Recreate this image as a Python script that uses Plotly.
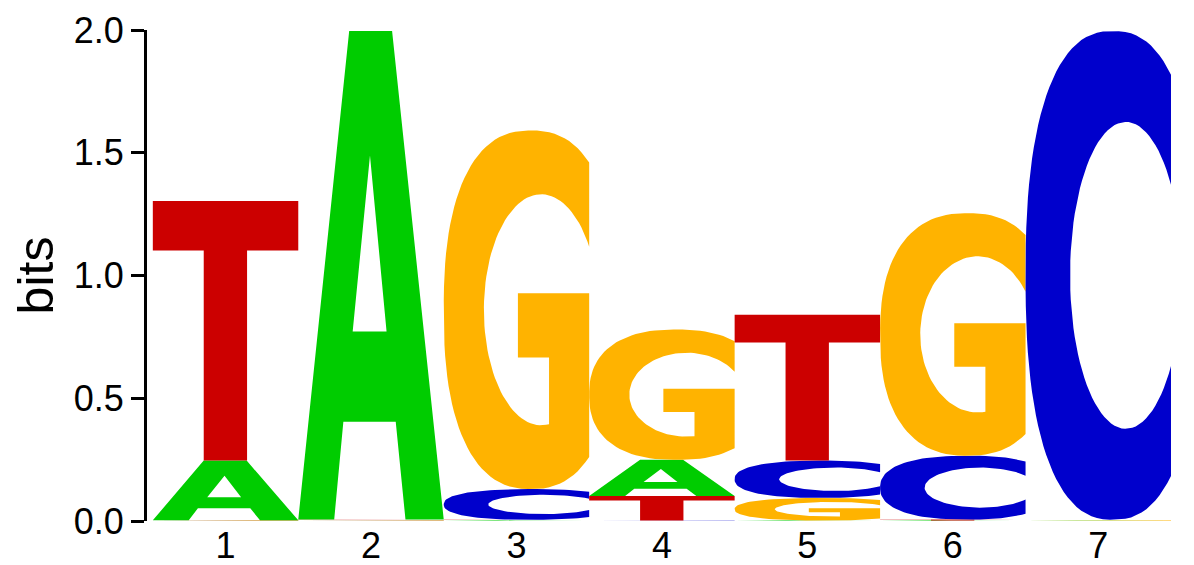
import numpy as np
import plotly.graph_objects as go

# sequence logo, 7 positions, information content in bits per base
positions = [1, 2, 3, 4, 5, 6, 7]
tick_labels = ['1', '2', '3', '4', '5', '6', '7']
bits_A = [0.243, 1.990, 0.002, 0.147, 0.002, 0.002, 0.001]
bits_C = [0.001, 0.001, 0.125, 0.002, 0.152, 0.260, 1.991]
bits_G = [0.002, 0.002, 1.461, 0.531, 0.092, 0.988, 0.002]
bits_T = [1.057, 0.003, 0.003, 0.100, 0.594, 0.004, 0.002]

colors = {'A': '#00CC00', 'C': '#0000CC', 'G': '#FFB300', 'T': '#CC0000'}
FONT = 'Liberation Sans, Arial, sans-serif'


def superellipse(cx, cy, rx, ry, n, t0, t1, num=80):
    t = np.linspace(t0, t1, num)
    c, s = np.cos(t), np.sin(t)
    x = cx + rx * np.sign(c) * np.abs(c) ** (2 / n)
    y = cy + ry * np.sign(s) * np.abs(s) ** (2 / n)
    return list(x), list(y)


def edge_angle(cx, rx, n, x):
    # angle where the curve crosses the vertical line at x
    return np.arccos(((x - cx) / rx) ** (n / 2))


# outer bowl shared by C and G
OUT = dict(cx=0.6, cy=0.5, rx=0.6, ry=0.5, n=2.4)


def glyph_C():
    to = edge_angle(OUT['cx'], OUT['rx'], OUT['n'], 1.0)
    xo, yo = superellipse(OUT['cx'], OUT['cy'], OUT['rx'], OUT['ry'], OUT['n'], to, 2 * np.pi - to)
    ti = edge_angle(0.69, 0.384, 2, 1.0)
    xi, yi = superellipse(0.69, 0.5, 0.384, 0.314, 2, 2 * np.pi - ti, ti)
    return xo + xi, yo + yi


def glyph_G():
    to = edge_angle(OUT['cx'], OUT['rx'], OUT['n'], 1.0)
    xo, yo = superellipse(OUT['cx'], OUT['cy'], OUT['rx'], OUT['ry'], OUT['n'], to, 2 * np.pi - to)
    bar_x = [1.0, 0.51, 0.51, 0.724]
    bar_y = [0.546, 0.546, 0.367, 0.367]
    ts = 2 * np.pi - np.arccos((0.724 - 0.67) / 0.394)
    ti = edge_angle(0.67, 0.394, 2, 1.0)
    xi, yi = superellipse(0.67, 0.5, 0.394, 0.322, 2, ts, ti)
    return xo + bar_x + xi, yo + bar_y + yi


def glyph_A():
    # outline plus the counter, joined by a zero-width slit
    x = [0.35, 0.0, 0.247, 0.31, 0.67, 0.737, 1.0, 0.645, 0.493,
         0.493, 0.607, 0.374, 0.493, 0.493]
    y = [1.0, 0.0, 0.0, 0.2, 0.2, 0.0, 0.0, 1.0, 1.0,
         0.745, 0.385, 0.385, 0.745, 1.0]
    return x, y


def glyph_T():
    x = [0.0, 1.0, 1.0, 0.648, 0.648, 0.35, 0.35, 0.0]
    y = [1.0, 1.0, 0.81, 0.81, 0.0, 0.0, 0.81, 0.81]
    return x, y


glyphs = {'A': glyph_A(), 'C': glyph_C(), 'G': glyph_G(), 'T': glyph_T()}
heights = {'A': bits_A, 'C': bits_C, 'G': bits_G, 'T': bits_T}

fig = go.Figure()
for i, pos in enumerate(positions):
    # smallest letter at the bottom, biggest on top
    stack = sorted(heights, key=lambda b: heights[b][i])
    base = 0.0
    for b in stack:
        h = heights[b][i]
        gx, gy = glyphs[b]
        fig.add_trace(go.Scatter(
            x=[pos - 0.5 + v for v in gx],
            y=[base + v * h for v in gy],
            mode='lines', fill='toself', fillcolor=colors[b],
            line=dict(width=0), hoverinfo='skip', showlegend=False))
        base += h

fig.update_layout(
    width=1194, height=565,
    margin=dict(l=139, r=31, t=22, b=52),
    plot_bgcolor='white', paper_bgcolor='white',
    font=dict(family=FONT, size=36, color='black'),
)
fig.update_xaxes(range=[0.46, 7.5], tickvals=positions, ticktext=tick_labels,
                 showgrid=False, zeroline=False, showline=False, ticks='',
                 automargin=False)
fig.update_yaxes(range=[0, 2], tickvals=[0, 0.5, 1, 1.5, 2],
                 ticktext=['0.0', '0.5', '1.0', '1.5', '2.0'],
                 showgrid=False, zeroline=False, showline=True, linecolor='black',
                 linewidth=3, ticks='outside', ticklen=13, tickwidth=3, tickcolor='black',
                 automargin='left',
                 title=dict(text='bits', font=dict(size=50), standoff=19))

fig.write_html('out.html')
